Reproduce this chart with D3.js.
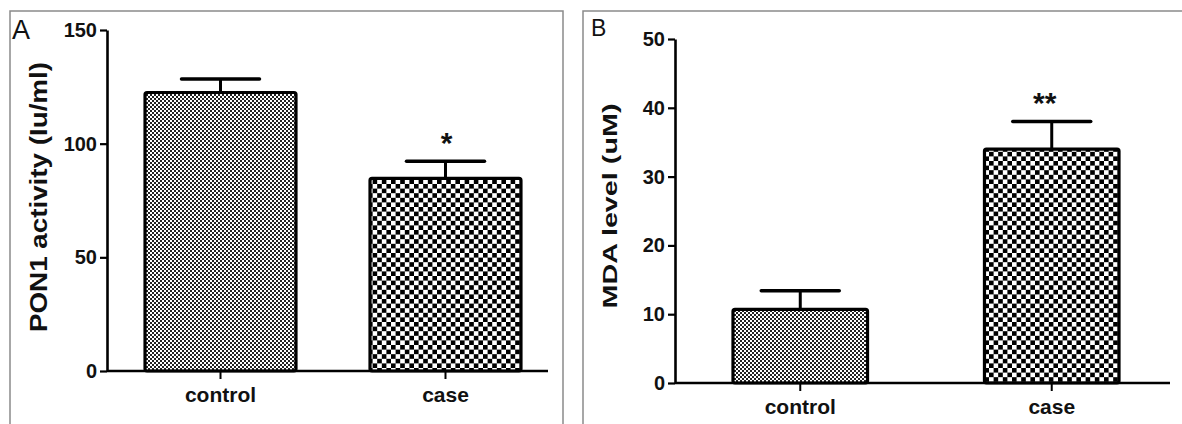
<!DOCTYPE html>
<html>
<head>
<meta charset="utf-8">
<script src="https://cdn.jsdelivr.net/npm/d3@7"></script>
<style>
  body { margin: 0; background: #fff; }
  svg { display: block; }
  text { font-family: "Liberation Sans", Arial, sans-serif; fill: #111; }
</style>
</head>
<body>
<svg id="chart" width="1182" height="424"></svg>
<script>
// data
const groups = ["control", "case"];
const ponMean = [122.5, 84.7];
const ponErr = [6.0, 7.6];
const ponTicks = [0, 50, 100, 150];
const mdaMean = [10.7, 34.0];
const mdaErr = [2.7, 4.0];
const mdaTicks = [0, 10, 20, 30, 40, 50];
const stars = ["", "*"];
const starsB = ["", "**"];

const svg = d3.select("#chart");
const defs = svg.append("defs");

// fine checker (control) and coarse checker (case)
function checker(id, cell, dark) {
    const p = defs.append("pattern")
        .attr("id", id)
        .attr("patternUnits", "userSpaceOnUse")
        .attr("width", cell * 2)
        .attr("height", cell * 2);
    p.append("rect").attr("width", cell * 2).attr("height", cell * 2).attr("fill", "#fff");
    p.append("rect").attr("width", cell).attr("height", cell).attr("fill", dark);
    p.append("rect").attr("x", cell).attr("y", cell).attr("width", cell).attr("height", cell).attr("fill", dark);
}
checker("fine", 2, "#222");
checker("coarse", 4.6, "#000");
const fills = ["url(#fine)", "url(#coarse)"];

function panel(cfg) {
    const g = svg.append("g");

    // frame
    g.append("rect")
        .attr("x", cfg.frame[0]).attr("y", cfg.frame[1])
        .attr("width", cfg.frame[2]).attr("height", cfg.frame[3])
        .attr("fill", "none").attr("stroke", "#8a8a8a").attr("stroke-width", 1.5);

    g.append("text")
        .attr("x", cfg.letterPos[0]).attr("y", cfg.letterPos[1])
        .attr("font-size", cfg.letterSize)
        .text(cfg.letter);

    const y = d3.scaleLinear().domain(cfg.domain).range(cfg.yRange);
    const x = d3.scaleBand().domain(groups)
        .range(cfg.xRange)
        .paddingInner(cfg.padIn)
        .paddingOuter(cfg.padOut);

    // bars
    g.selectAll("rect.bar")
        .data(groups)
        .enter().append("rect")
        .attr("class", "bar")
        .attr("x", d => x(d))
        .attr("y", (d, i) => y(cfg.mean[i]))
        .attr("width", x.bandwidth())
        .attr("height", (d, i) => y(0) - y(cfg.mean[i]))
        .attr("rx", 2)
        .attr("fill", (d, i) => fills[i])
        .attr("stroke", "#000")
        .attr("stroke-width", 3.2);

    // error bars
    const eb = g.selectAll("g.err").data(groups).enter().append("g").attr("class", "err");
    eb.append("line")
        .attr("x1", d => x(d) + x.bandwidth() / 2)
        .attr("x2", d => x(d) + x.bandwidth() / 2)
        .attr("y1", (d, i) => y(cfg.mean[i]))
        .attr("y2", (d, i) => y(cfg.mean[i] + cfg.err[i]))
        .attr("stroke", "#000").attr("stroke-width", 3);
    eb.append("line")
        .attr("x1", d => x(d) + x.bandwidth() / 2 - 39)
        .attr("x2", d => x(d) + x.bandwidth() / 2 + 39)
        .attr("y1", (d, i) => y(cfg.mean[i] + cfg.err[i]))
        .attr("y2", (d, i) => y(cfg.mean[i] + cfg.err[i]))
        .attr("stroke", "#000").attr("stroke-width", 3.5)
        .attr("stroke-linecap", "round");

    // significance marks
    g.selectAll("text.star").data(groups).enter().append("text")
        .attr("class", "star")
        .attr("x", d => x(d) + x.bandwidth() / 2 + cfg.starDx)
        .attr("y", (d, i) => y(cfg.mean[i] + cfg.err[i]) - cfg.starGap)
        .attr("text-anchor", "middle")
        .attr("font-size", 30)
        .attr("font-weight", "bold")
        .text((d, i) => cfg.stars[i]);

    // y axis
    const ya = g.append("g")
        .attr("transform", `translate(${cfg.xRange[0]},0)`)
        .call(d3.axisLeft(y).tickValues(cfg.ticks).tickSize(7).tickSizeOuter(0).tickPadding(3));
    ya.select(".domain").attr("stroke", "#000").attr("stroke-width", 2.6);
    ya.selectAll(".tick line").attr("stroke", "#000").attr("stroke-width", 2.2);
    ya.selectAll(".tick text")
        .attr("font-size", 20).attr("font-weight", "bold")
        .attr("font-family", "Liberation Sans, Arial, sans-serif")
        .attr("fill", "#111");

    // x axis
    const xa = g.append("g")
        .attr("transform", `translate(0,${y(0)})`)
        .call(d3.axisBottom(x).tickSize(8).tickPadding(cfg.xPad));
    xa.select(".domain").remove();
    xa.selectAll(".tick line").attr("stroke", "#000").attr("stroke-width", 2);
    xa.selectAll(".tick text")
        .attr("font-size", 21).attr("font-weight", "bold")
        .attr("font-family", "Liberation Sans, Arial, sans-serif")
        .attr("fill", "#111");
    g.append("line")
        .attr("x1", cfg.xRange[0]).attr("x2", cfg.axisEnd)
        .attr("y1", y(0)).attr("y2", y(0))
        .attr("stroke", "#000").attr("stroke-width", 2.6);

    // y label
    g.append("text")
        .attr("transform", `translate(${cfg.labelPos[0]},${cfg.labelPos[1]}) rotate(-90)`)
        .attr("text-anchor", "middle")
        .attr("font-size", cfg.labelSize)
        .attr("font-weight", "bold")
        .attr("textLength", cfg.labelLen)
        .attr("lengthAdjust", "spacingAndGlyphs")
        .text(cfg.label);
}

panel({
    frame: [10, 11, 553, 430],
    letter: "A", letterPos: [12, 39], letterSize: 27,
    domain: [0, 150], yRange: [371, 30],
    xRange: [107, 559], padIn: 0.329, padOut: 0.169, axisEnd: 548,
    mean: ponMean, err: ponErr, ticks: ponTicks,
    stars: stars, starDx: 1, starGap: 8, xPad: 8,
    label: "PON1 activity (Iu/ml)", labelPos: [47, 197], labelSize: 23, labelLen: 270
});

panel({
    frame: [583, 11, 620, 430],
    letter: "B", letterPos: [591, 36], letterSize: 23,
    domain: [0, 50], yRange: [383, 39],
    xRange: [675, 1177], padIn: 0.465, padOut: 0.2306, axisEnd: 1170,
    mean: mdaMean, err: mdaErr, ticks: mdaTicks,
    stars: starsB, starDx: -7, starGap: 9, xPad: 8,
    label: "MDA level (uM)", labelPos: [617, 206], labelSize: 21, labelLen: 205
});
</script>
</body>
</html>
